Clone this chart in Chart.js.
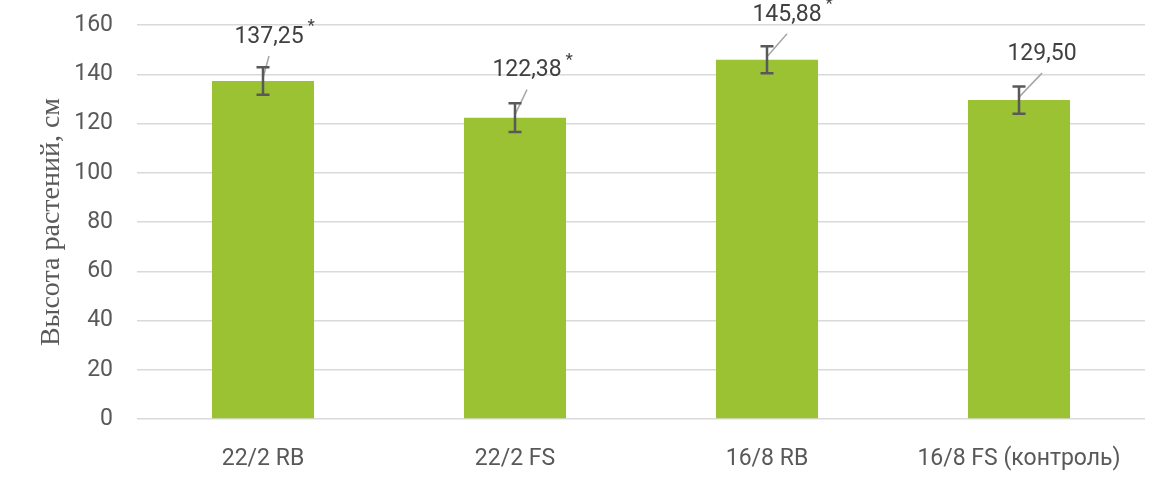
<!DOCTYPE html>
<html>
<head>
<meta charset="utf-8">
<script src="https://cdn.jsdelivr.net/npm/chart.js@4.4.1/dist/chart.umd.min.js"></script>
<style>
  html, body { margin: 0; padding: 0; background: #fff; }
  #wrap { width: 1160px; height: 481px; }
</style>
</head>
<body>
<div id="wrap"><canvas id="chart"></canvas></div>
<script>
// Данные
const categories = ['22/2 RB', '22/2 FS', '16/8 RB', '16/8 FS (контроль)'];
const heights = [137.25, 122.38, 145.88, 129.50];
const errors = [5.6, 5.8, 5.5, 5.5];
const labelTexts = ['137,25', '122,38', '145,88', '129,50'];
const significant = [true, true, true, false];
const yTicks = [0, 20, 40, 60, 80, 100, 120, 140, 160];

const textColor = '#595959';
// смещения подписей относительно вершины столбца (как расставлены вручную в Excel)
const labelShift = [[6, -44], [12, -47], [20, -45], [23, -46]];

// Планки погрешностей + подписи с выносками
const annotate = {
  id: 'annotate',
  afterDatasetsDraw(chart) {
    const ctx = chart.ctx;
    const y = chart.scales.y;
    const meta = chart.getDatasetMeta(0);
    ctx.save();
    meta.data.forEach((bar, i) => {
      const x = bar.x;
      const top = y.getPixelForValue(heights[i] + errors[i]);
      const bot = y.getPixelForValue(heights[i] - errors[i]);
      const val = y.getPixelForValue(heights[i]);
      const lx = x + labelShift[i][0];
      const ly = val + labelShift[i][1];

      // выноска
      ctx.strokeStyle = '#a6a6a6';
      ctx.lineWidth = 1.5;
      ctx.beginPath();
      ctx.moveTo(x, val - 3);
      ctx.lineTo(lx, ly + 19);
      ctx.stroke();

      // планка погрешности
      ctx.strokeStyle = '#595959';
      ctx.lineWidth = 2.5;
      ctx.beginPath();
      ctx.moveTo(x, top); ctx.lineTo(x, bot);
      ctx.moveTo(x - 6.5, top); ctx.lineTo(x + 6.5, top);
      ctx.moveTo(x - 6.5, bot); ctx.lineTo(x + 6.5, bot);
      ctx.stroke();

      // подпись
      ctx.fillStyle = '#404040';
      ctx.font = '23px Roboto';
      ctx.textAlign = 'center';
      ctx.textBaseline = 'middle';
      ctx.fillText(labelTexts[i], lx, ly);
      if (significant[i]) {
        const w = ctx.measureText(labelTexts[i]).width;
        ctx.font = '17px Roboto';
        ctx.textAlign = 'left';
        ctx.fillText('*', lx + w / 2 + 4, ly - 10);
      }
    });
    ctx.restore();
  }
};

new Chart(document.getElementById('chart'), {
  type: 'bar',
  data: {
    labels: categories,
    datasets: [{
      data: heights,
      backgroundColor: '#9bc232',
      barPercentage: 0.81,
      categoryPercentage: 0.5
    }]
  },
  options: {
    responsive: true,
    maintainAspectRatio: false,
    animation: false,
    layout: { padding: { top: 25, right: 15, bottom: 0, left: 0 } },
    plugins: { legend: { display: false }, tooltip: { enabled: false } },
    scales: {
      x: {
        grid: { display: false },
        border: { display: false },
        ticks: { color: textColor, font: { family: 'Roboto', size: 23 }, padding: 18 },
        afterFit(scale) {
          scale.height = 62;
          scale.paddingLeft = 0;
          scale.paddingRight = 0;
        }
      },
      y: {
        min: 0,
        max: 160,
        afterBuildTicks(scale) { scale.ticks = yTicks.map(v => ({ value: v })); },
        grid: { color: '#d9d9d9', lineWidth: 1.5, drawTicks: false },
        border: { display: false },
        ticks: { color: textColor, font: { family: 'Roboto', size: 23 }, padding: 24 },
        title: {
          display: true,
          text: 'Высота растений, см',
          color: textColor,
          font: { family: 'Liberation Serif', size: 28 },
          padding: { top: 35, bottom: 0 }
        },
        afterFit(scale) {
          scale.width = 137;
          scale.paddingTop = 0;
          scale.paddingBottom = 0;
        }
      }
    }
  },
  plugins: [annotate]
});
</script>
</body>
</html>
